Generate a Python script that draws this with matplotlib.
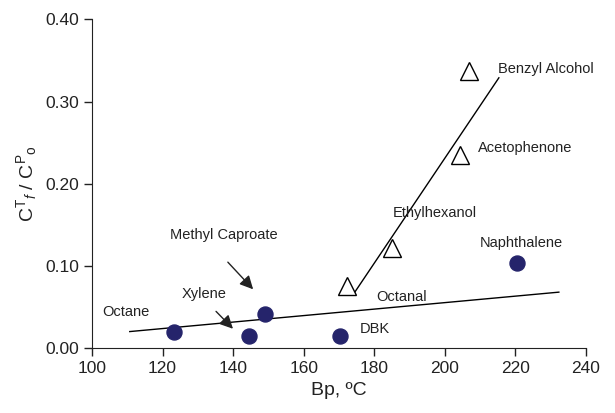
import matplotlib
matplotlib.use("Agg")
import matplotlib.pyplot as plt

plt.rcParams['font.family'] = ['Liberation Sans', 'DejaVu Sans']
plt.rcParams['mathtext.fontset'] = 'custom'
plt.rcParams['mathtext.rm'] = 'Liberation Sans'
plt.rcParams['mathtext.it'] = 'Liberation Sans:italic'

# 实心圆点 (bp, ratio)
circle_names = ['Octane', 'Xylene', 'Methyl Caproate', 'DBK', 'Naphthalene']
circle_bp = [123.2, 144.4, 149.1, 170.3, 220.3]
circle_ratio = [0.020, 0.015, 0.041, 0.015, 0.103]

# 空心三角
tri_names = ['Octanal', 'Ethylhexanol', 'Acetophenone', 'Benzyl Alcohol']
tri_bp = [172.4, 184.9, 204.2, 206.8]
tri_ratio = [0.076, 0.122, 0.235, 0.337]

# 趋势线端点
flat_x = [110.7, 232.3]
flat_y = [0.020, 0.068]
steep_x = [174.0, 215.3]
steep_y = [0.065, 0.329]

# 标签位置
labels = {
    'Octane': (103.0, 0.044),
    'Xylene': (125.3, 0.066),
    'Methyl Caproate': (122.2, 0.137),
    'DBK': (175.9, 0.023),
    'Naphthalene': (210.0, 0.128),
    'Octanal': (180.6, 0.062),
    'Ethylhexanol': (185.3, 0.164),
    'Acetophenone': (209.4, 0.243),
    'Benzyl Alcohol': (215.0, 0.340),
}

fig = plt.figure(figsize=(6.15, 4.13), dpi=100)
ax = fig.add_axes([0.1496, 0.1574, 0.8033, 0.7954])

ax.plot(flat_x, flat_y, color='black', lw=1)
ax.plot(steep_x, steep_y, color='black', lw=1)
ax.plot(circle_bp, circle_ratio, 'o', ms=10.8, color='#25246b', mec='#25246b')
ax.plot(tri_bp, tri_ratio, '^', ms=13.5, mfc='white', mec='black', mew=1)

for name, (x, y) in labels.items():
    ax.text(x, y, name, fontsize=10.5, ha='left', va='center', color='#222222')

arrow = dict(arrowstyle='-|>', color='#222222', lw=1, mutation_scale=20)
ax.annotate('', xy=(146.2, 0.069), xytext=(137.96, 0.107), arrowprops=arrow)
ax.annotate('', xy=(140.5, 0.021), xytext=(134.6, 0.047), arrowprops=arrow)

ax.set_xlim(100, 240)
ax.set_ylim(0, 0.40)
ax.set_xticks(range(100, 241, 20))
ax.set_yticks([0, 0.1, 0.2, 0.3, 0.4])
ax.set_yticklabels(['0.00', '0.10', '0.20', '0.30', '0.40'])
ax.tick_params(direction='out', length=6, width=1, labelsize=12.5, colors='#222222')
for s in ['top', 'right']:
    ax.spines[s].set_visible(False)
for s in ['left', 'bottom']:
    ax.spines[s].set_color('#222222')

ax.set_xlabel('Bp, ºC', fontsize=14, color='#222222')
ax.set_ylabel(r'C$^{\mathrm{T}}$$_{f}$ / C$^{\mathrm{P}}$$_{\mathrm{o}}$', fontsize=14, color='#222222')

fig.savefig('out.png', dpi=100)
